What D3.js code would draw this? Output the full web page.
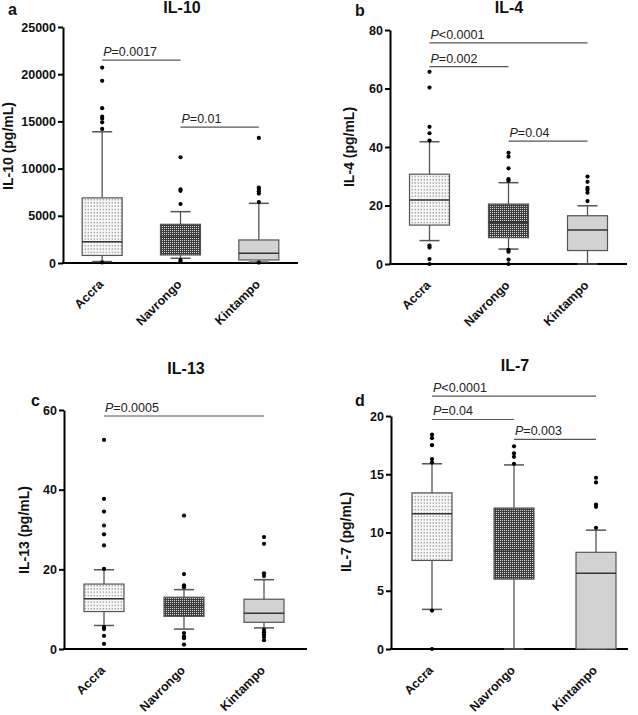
<!DOCTYPE html>
<html><head><meta charset="utf-8">
<script src="https://cdn.jsdelivr.net/npm/d3@7"></script>
<style>
html,body{margin:0;padding:0;background:#fff;}
svg{display:block;font-family:"Liberation Sans",Arial,Helvetica,sans-serif;}
</style></head>
<body>
<svg id="chart" width="638" height="715"></svg>
<script>
// ---------- DATA ----------
const categories = ["Accra", "Navrongo", "Kintampo"];

// five-number boxes: [lower whisker, Q1, median, Q3, upper whisker]
const il10Boxes = [[150, 800, 2260, 6900, 13900], [500, 850, 2720, 4100, 5440], [100, 320, 1030, 2440, 6320]];
const il10Outliers = [[14200, 14900, 15300, 15500, 16400, 19300, 20700, 60], [6250, 7650, 7800, 11200, 300, 120], [6450, 7350, 7600, 7850, 8000, 13250, 50]];
const il10Ticks = [0, 5000, 10000, 15000, 20000, 25000];
const il10Pvals = [[0, 1, "=0.0017", 21500], [1, 2, "=0.01", 14400]];

const il4Boxes = [[8.0, 13.3, 21.9, 30.7, 41.8], [5.1, 9.0, 14.3, 20.5, 27.8], [0, 4.6, 11.6, 16.5, 19.9]];
const il4Outliers = [[42.2, 44.7, 46.9, 60.3, 65.7, 6.3, 5.6, 1.7, 0], [28.5, 29.0, 32.7, 36.7, 38.0, 4.8, 4.2, 1.5, 0], [21.5, 24.4, 25.4, 26.0, 28.1, 29.9]];
const il4Ticks = [0, 20, 40, 60, 80];
const il4Pvals = [[0, 2, "<0.0001", 75.6], [0, 1, "=0.002", 67.5], [1, 2, "=0.04", 42.0]];

const il13Boxes = [[5.9, 9.4, 12.6, 16.3, 19.9], [5.0, 8.2, 10.9, 13.0, 14.9], [5.3, 6.7, 9.0, 12.5, 17.4]];
const il13Outliers = [[20.1, 26.0, 28.8, 31.0, 34.5, 37.7, 52.5, 5.5, 5.0, 3.3, 1.3], [15.5, 16.0, 18.8, 33.5, 4.0, 3.2, 2.7, 1.1], [18.3, 19.0, 26.4, 28.1, 4.8, 4.2, 3.6, 3.0, 2.2]];
const il13Ticks = [0, 20, 40, 60];
const il13Pvals = [[0, 2, "=0.0005", 58.5]];

const il7Boxes = [[3.4, 7.6, 11.6, 13.4, 15.9], [0, 6.0, 8.4, 12.1, 15.8], [0, 0, 6.5, 8.3, 10.2]];
const il7Outliers = [[16.0, 16.3, 17.5, 18.1, 18.4, 3.3, 0], [15.9, 16.5, 16.8, 17.4], [10.4, 12.2, 12.4, 14.3, 14.7]];
const il7Ticks = [0, 5, 10, 15, 20];
const il7Pvals = [[0, 2, "<0.0001", 21.7], [0, 1, "=0.04", 19.7], [1, 2, "=0.003", 18.0]];

const titles = ["IL-10", "IL-4", "IL-13", "IL-7"];
const yLabels = ["IL-10 (pg/mL)", "IL-4 (pg/mL)", "IL-13 (pg/mL)", "IL-7 (pg/mL)"];
const panelLetters = ["a", "b", "c", "d"];

// ---------- LAYOUT ----------
const layout = [
  {ax: 63, y0: 263, yTop: 27, xEnd: 298, cat: [63, 298], title: [182, 13], letter: [8, 15], ylab: [13, 146]},
  {ax: 390, y0: 264, yTop: 30, xEnd: 627, cat: [390, 627], title: [509, 13], letter: [355, 16], ylab: [354, 147]},
  {ax: 64, y0: 649, yTop: 410, xEnd: 307, cat: [64, 304], title: [186, 374], letter: [31, 406], ylab: [29, 530]},
  {ax: 391, y0: 649, yTop: 416, xEnd: 628, cat: [391, 637], title: [515, 371], letter: [355, 406], ylab: [351, 532]}
];
const panels = [
  {boxes: il10Boxes, outliers: il10Outliers, ticks: il10Ticks, pvals: il10Pvals},
  {boxes: il4Boxes, outliers: il4Outliers, ticks: il4Ticks, pvals: il4Pvals},
  {boxes: il13Boxes, outliers: il13Outliers, ticks: il13Ticks, pvals: il13Pvals},
  {boxes: il7Boxes, outliers: il7Outliers, ticks: il7Ticks, pvals: il7Pvals}
];

const svg = d3.select("#chart");
const defs = svg.append("defs");
// stipple pattern (Accra)
const p1 = defs.append("pattern").attr("id", "dots").attr("patternUnits", "userSpaceOnUse")
  .attr("width", 3).attr("height", 3.3);
p1.append("rect").attr("width", 3).attr("height", 3.3).attr("fill", "#f7f7f7");
p1.append("rect").attr("x", 0.6).attr("y", 1).attr("width", 1.4).attr("height", 1.1).attr("fill", "#8c8c8c");
// dense crosshatch (Navrongo)
const p2 = defs.append("pattern").attr("id", "hatch").attr("patternUnits", "userSpaceOnUse")
  .attr("width", 2).attr("height", 2);
p2.append("rect").attr("width", 2).attr("height", 2).attr("fill", "#3c3c3c");
p2.append("rect").attr("x", 0).attr("y", 0).attr("width", 1).attr("height", 1).attr("fill", "#d8d8d8");
const fills = ["url(#dots)", "url(#hatch)", "#d2d2d2"];

panels.forEach((p, i) => {
  const L = layout[i];
  const g = svg.append("g");
  const y = d3.scaleLinear().domain([0, p.ticks[p.ticks.length - 1]]).range([L.y0, L.yTop]);
  const x = d3.scalePoint().domain(categories).range(L.cat).padding(0.5);
  const bw = 40, cw = 20;

  // y axis
  const ya = g.append("g").attr("transform", `translate(${L.ax},0)`)
    .call(d3.axisLeft(y).tickValues(p.ticks).tickSize(5).tickSizeOuter(0).tickPadding(2).tickFormat(d3.format("d")));
  ya.select(".domain").attr("stroke", "#000").attr("stroke-width", 2);
  ya.selectAll(".tick line").attr("stroke", "#000").attr("stroke-width", 2);
  ya.selectAll(".tick text").attr("font-size", 12.5).attr("font-weight", "bold").attr("fill", "#111")
    .attr("font-family", "Liberation Sans, Arial, sans-serif");
  // x axis line
  g.append("line").attr("x1", L.ax - 1).attr("x2", L.xEnd).attr("y1", L.y0).attr("y2", L.y0)
    .attr("stroke", "#000").attr("stroke-width", 2);

  // boxes
  categories.forEach((c, k) => {
    const [lw, q1, med, q3, uw] = p.boxes[k];
    const cx = x(c);
    const bg = g.append("g");
    bg.append("line").attr("x1", cx).attr("x2", cx).attr("y1", y(q3)).attr("y2", y(uw)).attr("stroke", "#555").attr("stroke-width", 1.3);
    bg.append("line").attr("x1", cx).attr("x2", cx).attr("y1", y(q1)).attr("y2", y(lw)).attr("stroke", "#555").attr("stroke-width", 1.3);
    bg.append("line").attr("x1", cx - cw / 2).attr("x2", cx + cw / 2).attr("y1", y(uw)).attr("y2", y(uw)).attr("stroke", "#555").attr("stroke-width", 1.5);
    bg.append("line").attr("x1", cx - cw / 2).attr("x2", cx + cw / 2).attr("y1", y(lw)).attr("y2", y(lw)).attr("stroke", "#555").attr("stroke-width", 1.5);
    bg.append("rect").attr("x", cx - bw / 2).attr("y", y(q3)).attr("width", bw).attr("height", y(q1) - y(q3))
      .attr("fill", fills[k]).attr("stroke", "#555").attr("stroke-width", 1.2);
    bg.append("line").attr("x1", cx - bw / 2).attr("x2", cx + bw / 2).attr("y1", y(med)).attr("y2", y(med))
      .attr("stroke", "#333").attr("stroke-width", 1.5);
    bg.selectAll("circle").data(p.outliers[k]).join("circle")
      .attr("cx", cx).attr("cy", d => y(d)).attr("r", 2.1).attr("fill", "#000");
  });

  // x labels
  categories.forEach(c => {
    g.append("text").attr("transform", `translate(${x(c) + 2},${L.y0 + 22}) rotate(-45)`)
      .attr("text-anchor", "end").attr("font-size", 12.5).attr("font-weight", "bold").attr("fill", "#111").text(c);
  });

  // p-value annotations
  p.pvals.forEach(([a, b, lab, v]) => {
    const x1 = x(categories[a]), x2 = x(categories[b]), yy = y(v);
    g.append("line").attr("x1", x1).attr("x2", x2).attr("y1", yy).attr("y2", yy).attr("stroke", "#555").attr("stroke-width", 1.2);
    const t = g.append("text").attr("x", x1 + 1).attr("y", yy - 4).attr("font-size", 12.5).attr("fill", "#222");
    t.append("tspan").attr("font-style", "italic").text("P");
    t.append("tspan").text(lab);
  });

  // title, letter, y label
  g.append("text").attr("x", L.title[0]).attr("y", L.title[1]).attr("text-anchor", "middle")
    .attr("font-size", 16).attr("font-weight", "bold").attr("fill", "#111").text(titles[i]);
  g.append("text").attr("x", L.letter[0]).attr("y", L.letter[1])
    .attr("font-size", 16).attr("font-weight", "bold").attr("fill", "#111").text(panelLetters[i]);
  g.append("text").attr("transform", `translate(${L.ylab[0]},${L.ylab[1]}) rotate(-90)`).attr("text-anchor", "middle")
    .attr("font-size", 14).attr("font-weight", "bold").attr("fill", "#111").text(yLabels[i]);
});
</script>
</body></html>
